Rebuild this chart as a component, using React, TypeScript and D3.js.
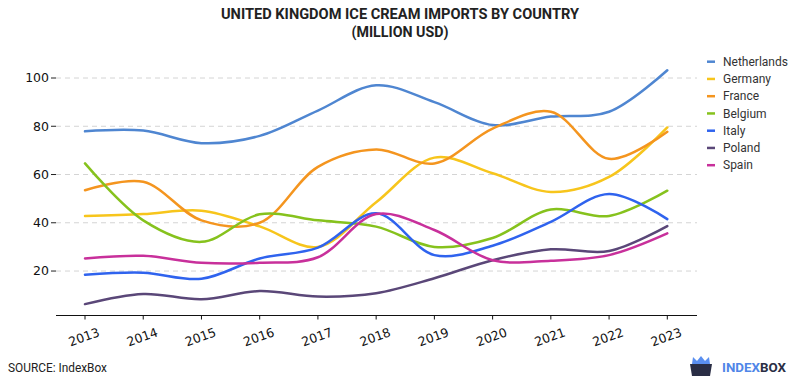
import React from "react";
import * as d3 from "d3";

const years = [2013, 2014, 2015, 2016, 2017, 2018, 2019, 2020, 2021, 2022, 2023];
const yTicks = [20, 40, 60, 80, 100];
const seriesNames = ["Netherlands", "Germany", "France", "Belgium", "Italy", "Poland", "Spain"];
const seriesColors = ["#4f86d1", "#f7c51c", "#f4951f", "#86c21d", "#2f63ee", "#5a4778", "#c8309b"];
const netherlands = [77.9, 78.2, 73, 76, 86.5, 97, 90, 80.5, 84, 86, 103.2];
const germany = [42.8, 43.6, 45, 38.5, 30, 48.5, 67, 60.5, 52.8, 59, 79.5];
const france = [53.5, 57, 41, 40, 63.2, 70.4, 64.6, 79, 86, 66.5, 77.7];
const belgium = [64.6, 41, 32.1, 43.5, 41, 38.4, 30, 33.7, 45.5, 42.8, 53.3];
const italy = [18.5, 19.3, 16.8, 25.2, 29.7, 43.9, 26.6, 30.5, 40.4, 51.9, 41.5];
const poland = [6.3, 10.5, 8.3, 11.7, 9.4, 10.8, 17, 24.5, 29, 28.3, 38.6];
const spain = [25.2, 26.3, 23.4, 23.4, 25.7, 43.6, 37, 24.5, 24.3, 26.6, 35.6];
const seriesValues = [netherlands, germany, france, belgium, italy, poland, spain];

export default function App() {
  const W = 800, H = 380;
  const x = d3.scaleLinear().domain([2013, 2023]).range([85, 667.3]);
  const y = d3.scaleLinear().domain([0, 100]).range([319.3, 78]);
  const axisY = 315.5;
  const line = d3
    .line<number>()
    .x((_, i) => x(years[i]))
    .y((d) => y(d))
    .curve(d3.curveCatmullRom.alpha(0.5));
  const tickFont = "'DejaVu Sans', sans-serif";
  const font = "Roboto, 'Noto Sans', sans-serif";
  return (
    <svg width={W} height={H} style={{ position: "absolute", left: 0, top: 0, background: "#fff" }}>
      <rect x={0} y={0} width={W} height={H} fill="#fff" />
      <text x={400} y={19} textAnchor="middle" fontFamily={font} fontWeight="bold" fontSize={15} fill="#222" textLength={358} lengthAdjust="spacingAndGlyphs">
        UNITED KINGDOM ICE CREAM IMPORTS BY COUNTRY
      </text>
      <text x={400} y={37} textAnchor="middle" fontFamily={font} fontWeight="bold" fontSize={15} fill="#222" textLength={97} lengthAdjust="spacingAndGlyphs">
        (MILLION USD)
      </text>
      {yTicks.map((t) => (
        <g key={t}>
          <line x1={56} x2={697} y1={y(t)} y2={y(t)} stroke="#d4d4d4" strokeDasharray="5,4" strokeWidth={1} />
          <line x1={51} x2={56} y1={y(t)} y2={y(t)} stroke="#222" strokeWidth={1} />
          <text x={49} y={y(t)} dy="0.35em" textAnchor="end" fontFamily={tickFont} fontSize={12.5} fill="#111">
            {t}
          </text>
        </g>
      ))}
      <line x1={56} x2={697} y1={axisY} y2={axisY} stroke="#111" strokeWidth={1.2} />
      {years.map((yr) => (
        <g key={yr}>
          <line x1={x(yr)} x2={x(yr)} y1={axisY} y2={axisY + 4} stroke="#111" strokeWidth={1} />
          <text
            transform={`translate(${x(yr) - 1},${337}) rotate(-20)`}
            textAnchor="middle"
            dy="0.35em"
            fontFamily={tickFont}
            fontSize={12.5}
            fill="#111"
          >
            {yr}
          </text>
        </g>
      ))}
      {seriesValues.map((vals, i) => (
        <path key={seriesNames[i]} d={line(vals) || ""} fill="none" stroke={seriesColors[i]} strokeWidth={2.5} strokeLinecap="round" />
      ))}
      {seriesNames.map((name, i) => (
        <g key={name} transform={`translate(707,${61.7 + i * 17.25})`}>
          <line x1={0} x2={8} y1={0} y2={0} stroke={seriesColors[i]} strokeWidth={2.5} />
          <text x={16} y={0} dy="0.35em" fontFamily={font} fontSize={12} fill="#333">
            {name}
          </text>
        </g>
      ))}
      <text x={8} y={372} fontFamily={font} fontSize={12} fill="#222" textLength={99} lengthAdjust="spacingAndGlyphs">
        SOURCE: IndexBox
      </text>
      <g>
        <path d="M690,364 L712,364 L710,376 L692,376 Z" fill="#2a2e45" />
        <path d="M692,364 L693,357 L697,361 L701,356 L705,361 L709,357 L710,364 Z" fill="#5a8ff0" />
        <text x={722} y={372} fontFamily={font} fontWeight="bold" fontSize={13} textLength={64} lengthAdjust="spacingAndGlyphs">
          <tspan fill="#4f86e8">INDEX</tspan>
          <tspan fill="#2a2e45">BOX</tspan>
        </text>
      </g>
    </svg>
  );
}
